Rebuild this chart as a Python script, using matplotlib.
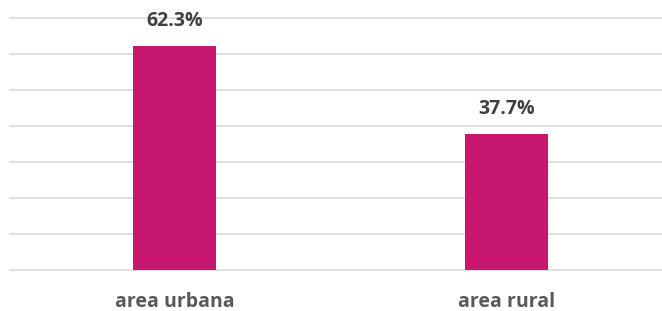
import matplotlib
matplotlib.use('Agg')
import matplotlib.pyplot as plt

# Datos
categorias = ['area urbana', 'area rural']
valores = [62.3, 37.7]
etiquetas = ['62.3%', '37.7%']
grid_vals = [0, 10, 20, 30, 40, 50, 60, 70]

fig = plt.figure(figsize=(6.62, 3.11), dpi=100)
ax = fig.add_axes([9 / 662, 41 / 311, 653 / 662, 252 / 311])

x = list(range(len(categorias)))
ax.hlines(grid_vals, -0.5, 1.467, colors='#d9d9d9', linewidth=1.2, clip_on=False, zorder=1)
ax.bar(x, valores, width=0.25, color='#C8176F', zorder=2)

for xi, v, t in zip(x, valores, etiquetas):
    ax.text(xi, v + 7, t, ha='center', va='center', fontsize=14, fontweight='bold',
            color='#404040', family='Open Sans')

ax.set_xlim(-0.5, 1.467)
ax.set_ylim(0, 70)
ax.set_xticks(x)
ax.set_xticklabels(categorias, fontsize=14, fontweight='bold', color='#595959', family='Open Sans')
ax.tick_params(axis='x', length=0, pad=16)
ax.set_yticks([])
for s in ax.spines.values():
    s.set_visible(False)

plt.savefig('out.png', dpi=100)
plt.close()
